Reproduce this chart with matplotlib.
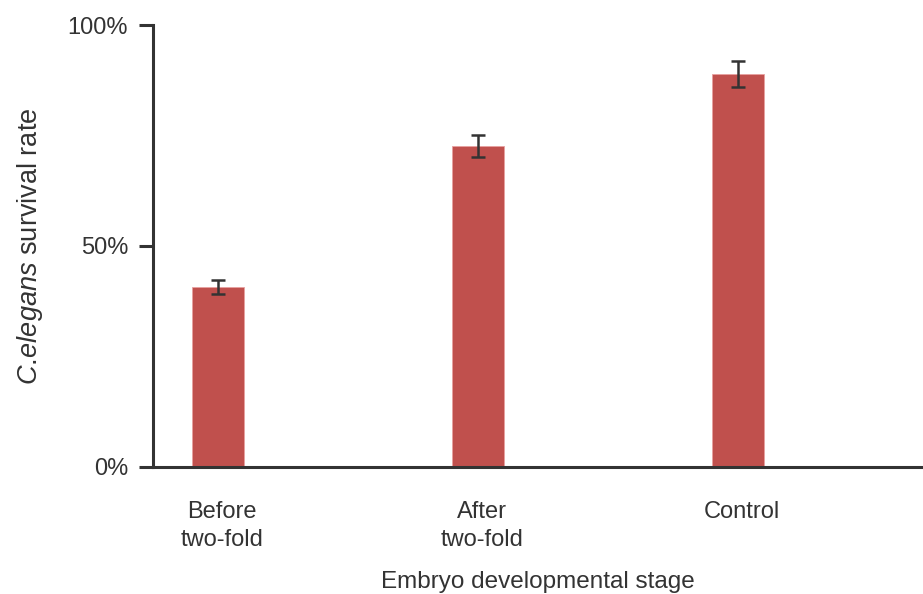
import matplotlib
matplotlib.use("Agg")
import matplotlib.pyplot as plt
from matplotlib.ticker import FuncFormatter

plt.rcParams["font.family"] = ["Liberation Sans", "DejaVu Sans"]
plt.rcParams["mathtext.fontset"] = "custom"
plt.rcParams["mathtext.it"] = "Liberation Sans:italic"
plt.rcParams["mathtext.rm"] = "Liberation Sans"

# Survival rate per embryo stage (fraction) and its error
categories = ["Before\ntwo-fold", "After\ntwo-fold", "Control"]
survival = [0.407, 0.727, 0.889]
errors = [0.015, 0.025, 0.029]
y_ticks = [0.0, 0.5, 1.0]

bar_color = "#C0504D"
ink = "#333333"

fig = plt.figure(figsize=(9.23, 5.94), dpi=100)
ax = fig.add_axes([0.1658, 0.2143, 0.8342, 0.7436])

x = list(range(len(categories)))
ax.bar(x, survival, width=0.2, color=bar_color, edgecolor="#E8A0A0", linewidth=0.6,
       yerr=errors, error_kw=dict(ecolor=ink, elinewidth=1.8, capsize=5, capthick=1.8),
       zorder=2)

ax.set_xlim(-0.25, 2.71)
ax.set_ylim(0, 1.0)
ax.set_yticks(y_ticks)
ax.yaxis.set_major_formatter(FuncFormatter(lambda v, _: f"{v*100:.0f}%"))
ax.set_xticks([xi + 0.015 for xi in x])
ax.set_xticklabels(categories, fontsize=17, color=ink, linespacing=1.35)

for side in ("top", "right"):
    ax.spines[side].set_visible(False)
for side in ("left", "bottom"):
    ax.spines[side].set_color(ink)
    ax.spines[side].set_linewidth(2.2)

ax.tick_params(axis="y", direction="out", length=10, width=2.2, color=ink,
               labelsize=17, labelcolor=ink, pad=8)
ax.tick_params(axis="x", length=0, pad=25)

ax.set_ylabel(r"$\mathit{C.\!elegans}$ survival rate", fontsize=19.5, color=ink, labelpad=16)
ax.set_xlabel("Embryo developmental stage", fontsize=17.5, color=ink, labelpad=14)

fig.savefig("out.png", dpi=100)
